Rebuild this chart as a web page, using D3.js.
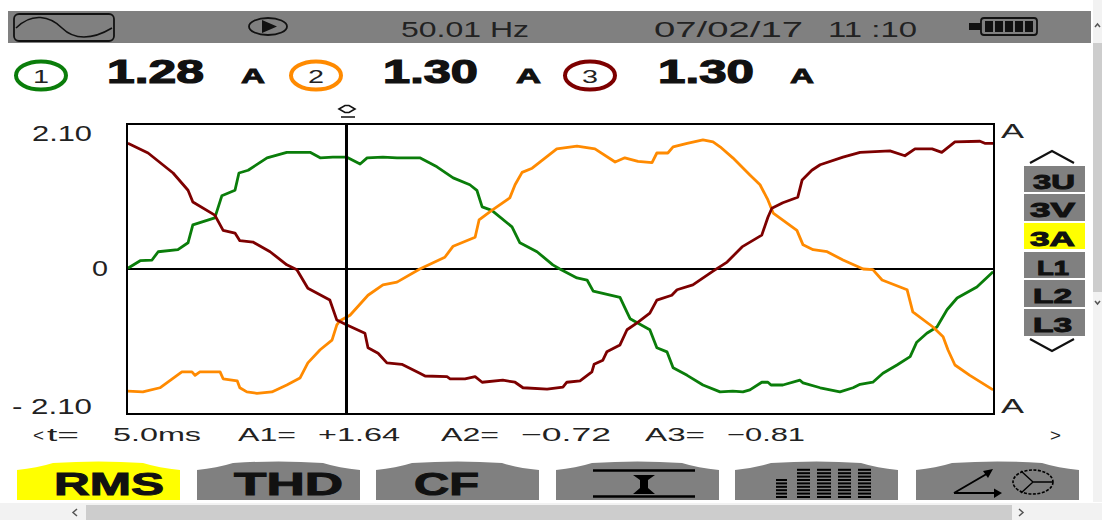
<!DOCTYPE html>
<html><head><meta charset="utf-8">
<script src="https://cdn.jsdelivr.net/npm/d3@7/dist/d3.min.js"></script>
<style>html,body{margin:0;padding:0;background:#fff;overflow:hidden}svg{display:block}text{font-family:"Liberation Sans",Arial,sans-serif}</style>
</head><body><svg id="c" width="1102" height="520"></svg>
<script>
// Time (ms) and current (A)
const t1=[.02,.30,.57,.71,1.16,1.39,1.50,2.00,2.16,2.46,2.55,2.76,3.19,3.64,4.17,4.40,4.69,5.01,5.31,5.47,5.83,6.15,6.67,7.06,7.43,7.81,7.97,8.09,8.31,8.77,8.95,9.34,9.70,9.86,10.25,10.48,10.62,11.23,11.34,11.46,11.91,12.07,12.30,12.44,12.76,13.12,13.51,13.80,14.03,14.19,14.46,14.60,14.67,14.94,15.33,15.40,15.79,16.24,16.54,16.70,16.99,17.22,17.54,17.84,17.99,18.22,18.45,18.68,18.91,19.36,19.73];
const a1=[.01,.12,.13,.25,.28,.38,.64,.74,1.06,1.14,1.39,1.43,1.61,1.69,1.69,1.61,1.62,1.62,1.52,1.61,1.62,1.61,1.61,1.48,1.32,1.22,1.14,.90,.85,.61,.38,.25,.06,0,-.13,-.16,-.32,-.41,-.56,-.72,-.88,-1.14,-1.20,-1.43,-1.54,-1.68,-1.78,-1.77,-1.78,-1.75,-1.64,-1.64,-1.68,-1.68,-1.61,-1.65,-1.72,-1.78,-1.72,-1.67,-1.64,-1.51,-1.39,-1.27,-1.06,-.93,-.84,-.59,-.42,-.26,-.04];
const t2=[.02,.36,.75,1.25,1.48,1.55,1.66,2.12,2.19,2.51,2.57,2.73,2.96,3.30,3.64,3.94,4.12,4.40,4.67,4.78,4.85,5.08,5.49,5.83,6.15,6.67,7.24,7.43,7.93,8.02,8.31,8.72,8.84,9.00,9.23,9.79,10.25,10.66,11.12,11.34,11.64,11.96,12.07,12.32,12.44,12.76,13.12,13.35,13.51,13.80,14.19,14.42,14.60,14.72,15.26,15.40,15.63,15.95,16.31,16.77,16.99,17.20,17.77,17.90,18.36,18.59,18.70,18.86,19.20,19.73];
const a2=[-1.77,-1.78,-1.72,-1.49,-1.49,-1.54,-1.49,-1.49,-1.59,-1.62,-1.72,-1.78,-1.80,-1.78,-1.68,-1.58,-1.36,-1.17,-1.03,-.81,-.75,-.67,-.38,-.23,-.19,0,.17,.33,.46,.71,.85,1.03,1.22,1.40,1.46,1.74,1.78,1.74,1.55,1.61,1.56,1.54,1.68,1.68,1.77,1.82,1.87,1.84,1.77,1.61,1.36,1.22,1.00,.81,.56,.35,.28,.25,.13,0,-.01,-.16,-.30,-.62,-.84,-.98,-1.17,-1.39,-1.54,-1.75];
const t3=[.02,.48,1.05,1.39,1.50,2.00,2.19,2.46,2.57,2.87,3.26,3.64,3.87,4.12,4.62,4.78,5.01,5.42,5.49,5.72,5.92,6.26,6.67,6.79,7.29,7.36,7.70,7.93,8.09,8.56,8.84,9.02,9.57,9.93,10.02,10.32,10.59,10.64,10.84,10.93,11.23,11.39,11.62,11.91,12.07,12.41,12.53,12.89,13.35,13.67,14.01,14.46,14.60,14.69,14.94,15.28,15.38,15.60,15.79,16.31,16.70,17.38,17.72,17.95,18.34,18.56,18.86,19.43,19.54,19.73];
const a3=[1.82,1.68,1.39,1.14,.97,.78,.56,.52,.41,.39,.25,.06,-.01,-.28,-.45,-.74,-.81,-.93,-1.14,-1.22,-1.36,-1.38,-1.51,-1.55,-1.56,-1.59,-1.59,-1.56,-1.64,-1.61,-1.64,-1.72,-1.74,-1.71,-1.64,-1.62,-1.49,-1.38,-1.32,-1.20,-1.10,-.88,-.78,-.64,-.45,-.38,-.30,-.23,-.03,.10,.32,.49,.75,.88,.96,1.04,1.29,1.43,1.51,1.62,1.69,1.71,1.64,1.74,1.74,1.69,1.84,1.85,1.82,1.82];
const yTicks=[2.10,0,-2.10];
const cursorT=5.0;
const sideLabels=["3U","3V","3A","L1","L2","L3"];
const softLabels=["RMS","THD","CF"];
const colors=["#0a7d0a","#ff8a00","#7d0000"];
const GRAY="#808080",YEL="#ffff00";

const svg=d3.select("#c");
const x=d3.scaleLinear().domain([0,19.75]).range([127,994]);
const y=d3.scaleLinear().domain([-2.1,2.1]).range([414,124]);

function T(s,xa,xb,base,size,o={}){
  const e=svg.append("text").attr("x",xa).attr("y",base).attr("font-size",size)
    .attr("textLength",xb-xa).attr("lengthAdjust","spacingAndGlyphs")
    .attr("fill",o.fill||"#111").attr("font-weight",o.bold?"bold":"normal").text(s);
  if(o.stroke) e.attr("stroke",o.fill||"#111").attr("stroke-width",o.stroke);
  return e;
}
// browser scrollbars
svg.append("rect").attr("x",1093).attr("y",0).attr("width",9).attr("height",502).attr("fill","#f2f2f2");
svg.append("rect").attr("x",1093).attr("y",43).attr("width",9).attr("height",249).attr("fill","#cdcdcd");
svg.append("rect").attr("x",0).attr("y",503).attr("width",1102).attr("height",17).attr("fill","#f2f2f2");
svg.append("rect").attr("x",86).attr("y",505).attr("width",926).attr("height",15).attr("fill","#cdcdcd");
const chev=(d,w=1.5,c="#555")=>svg.append("path").attr("d",d).attr("fill","none").attr("stroke",c).attr("stroke-width",w);
chev("M77 509L73 512.5L77 516");
chev("M1019 509L1023 512.5L1019 516");
chev("M1095 27L1097.5 24L1100 27");
chev("M1095 301L1097.5 304L1100 301");

// status bar
svg.append("rect").attr("x",8).attr("y",11).attr("width",1083).attr("height",32).attr("fill",GRAY);
svg.append("rect").attr("x",14).attr("y",14).attr("width",100).attr("height",27).attr("rx",5).attr("fill","none").attr("stroke","#111").attr("stroke-width",1.8);
chev("M16 28C32 12 50 16 62 28C74 40 92 40 112 28",1.6,"#111");
svg.append("ellipse").attr("cx",268).attr("cy",26.5).attr("rx",19).attr("ry",8.5).attr("fill","none").attr("stroke","#111").attr("stroke-width",1.8);
svg.append("path").attr("d","M262 20L277 26.5L262 33Z").attr("fill","#111");
T("50.01 Hz",401,529,36.5,22,{fill:"#222"});
T("07/02/17",654,803,36.5,22,{fill:"#222"});
T("11 :10",828,917,36.5,22,{fill:"#222"});
svg.append("rect").attr("x",981).attr("y",18).attr("width",56).attr("height",17).attr("rx",3).attr("fill","none").attr("stroke","#111").attr("stroke-width",1.8);
svg.append("rect").attr("x",969).attr("y",23).attr("width",12).attr("height",7).attr("fill","#111");
svg.append("g").selectAll("rect").data(d3.range(5)).join("rect").attr("x",d=>985+d*10).attr("y",21).attr("width",8).attr("height",11).attr("fill","#111");

// readings
[[41,"1",colors[0]],[316,"2",colors[1]],[590,"3",colors[2]]].forEach(([cx,s,c])=>{
  svg.append("ellipse").attr("cx",cx).attr("cy",75.5).attr("rx",25).attr("ry",14).attr("fill","none").attr("stroke",c).attr("stroke-width",4);
  svg.append("text").attr("x",cx).attr("y",83).attr("text-anchor","middle").attr("font-size",19).attr("fill","#222").attr("textLength",16).attr("lengthAdjust","spacingAndGlyphs").text(s);
});
T("1.28",107,204,83,33,{bold:1,stroke:1.2});
T("1.30",383,478,83,33,{bold:1,stroke:1.2});
T("1.30",658,754,83,33,{bold:1,stroke:1.2});
T("A",241,265,83,21,{bold:1,stroke:.9});
T("A",516,541,83,21,{bold:1,stroke:.9});
T("A",790,814,83,21,{bold:1,stroke:.9});

// plot
const g=svg.append("g");
g.append("line").attr("x1",x(0)).attr("x2",x(19.75)).attr("y1",y(0)).attr("y2",y(0)).attr("stroke","#000").attr("stroke-width",1.8);
const line=d3.line().x(d=>x(d[0])).y(d=>y(d[1]));
[[t1,a1],[t2,a2],[t3,a3]].forEach(([t,a],i)=>{
  g.append("path").datum(t.map((v,k)=>[v,a[k]])).attr("d",line).attr("fill","none").attr("stroke",colors[i]).attr("stroke-width",2.8).attr("stroke-linejoin","round");
});
g.append("rect").attr("x",x(0)).attr("y",y(2.1)).attr("width",x(19.75)-x(0)).attr("height",y(-2.1)-y(2.1)).attr("fill","none").attr("stroke","#000").attr("stroke-width",2);
g.append("line").attr("x1",x(cursorT)).attr("x2",x(cursorT)).attr("y1",124).attr("y2",414).attr("stroke","#000").attr("stroke-width",3);
// y axis via d3
const ax=svg.append("g").attr("transform","translate(92,0)").call(d3.axisLeft(y).tickValues(yTicks).tickSize(0).tickPadding(0).tickFormat(d=>d===0?"":(d<0?"- ":"")+Math.abs(d).toFixed(2)));
ax.select(".domain").remove();
ax.selectAll("text").attr("font-size",22).attr("fill","#222").attr("font-family","Liberation Sans").attr("dy",0)
  .attr("y",d=>d>0?16:-1).attr("textLength",d=>d>0?60:80).attr("lengthAdjust","spacingAndGlyphs");
T("0",92,108,276,22,{fill:"#222"});
T("A",1001,1024,138,21,{fill:"#222"});
T("A",1001,1024,413,21,{fill:"#222"});
// cursor marker
chev("M339 109L345 105.5H349L355 109L349 112.5H345Z M341 117H355",1.6,"#111");

// cursor readout
T("<",33,44,441,17,{fill:"#222"});
T("t=",47,79,441,19,{fill:"#222"});
T("5.0ms",113,201,441,19,{fill:"#222"});
T("A1=",238,296,441,19,{fill:"#222"});
T("+1.64",318,400,441,19,{fill:"#222"});
T("A2=",441,499,441,19,{fill:"#222"});
T("\u22120.72",521,611,441,19,{fill:"#222"});
T("A3=",645,705,441,19,{fill:"#222"});
T("\u22120.81",727,805,441,19,{fill:"#222"});
T(">",1050,1061,441,17,{fill:"#222"});

// soft keys
const keyX=[17,197,376,556,735,916];
keyX.forEach((kx,i)=>{
  svg.append("path").attr("d",`M${kx} 500V470Q${kx+20} 468 ${kx+36} 463Q${kx+82} 460 ${kx+126} 463Q${kx+142} 468 ${kx+163} 470V500Z`).attr("fill",i===0?YEL:GRAY);
});
T(softLabels[0],54,164,495,32,{bold:1,stroke:1});
T(softLabels[1],234,343,495,32,{bold:1,stroke:1});
T(softLabels[2],414,479,495,32,{bold:1,stroke:1});
// icons
chev("M593 470.5H695 M593 496.5H695",2.5,"#000");
svg.append("path").attr("d","M633 475H655L648 480V488L655 494H633L640 488V480Z").attr("fill","#000");
[[776,6,11],[797,9,13],[817,9,14],[838,9,13],[858,9,13]].forEach(([bx,n,w])=>{
  svg.append("g").selectAll("rect").data(d3.range(n)).join("rect").attr("x",bx).attr("y",d=>496-d*3.4).attr("width",w).attr("height",2).attr("fill","#000");
});
chev("M954 493L990 472 M954 493H996",2,"#000");
svg.append("path").attr("d","M994 488.5L1002 493L994 498Z M983 471L993 469L988 478Z").attr("fill","#000");
svg.append("ellipse").attr("cx",1033).attr("cy",482).attr("rx",20).attr("ry",12).attr("fill","none").attr("stroke","#000").attr("stroke-width",1.6).attr("stroke-dasharray","3 1.5");
chev("M1033 482H1053 M1033 482L1021 471 M1033 482L1021 493",1.4,"#000");

// side keys
const sideY=[166,194,223,252,280,309],sideH=[26,27,26,26,27,27];
const sideA=[1033,1030,1030,1037,1033,1033],sideB=[1075,1075,1075,1069,1072,1072];
sideLabels.forEach((s,i)=>{
  svg.append("rect").attr("x",1024).attr("y",sideY[i]).attr("width",61).attr("height",sideH[i]).attr("fill",s==="3A"?YEL:GRAY);
  T(s,sideA[i],sideB[i],sideY[i]+22.5,21,{bold:1,stroke:1});
});
chev("M1030 163L1052 151L1074 163",2.2,"#111");
chev("M1030 339L1052 351L1074 339",2.2,"#111");
</script></body></html>
